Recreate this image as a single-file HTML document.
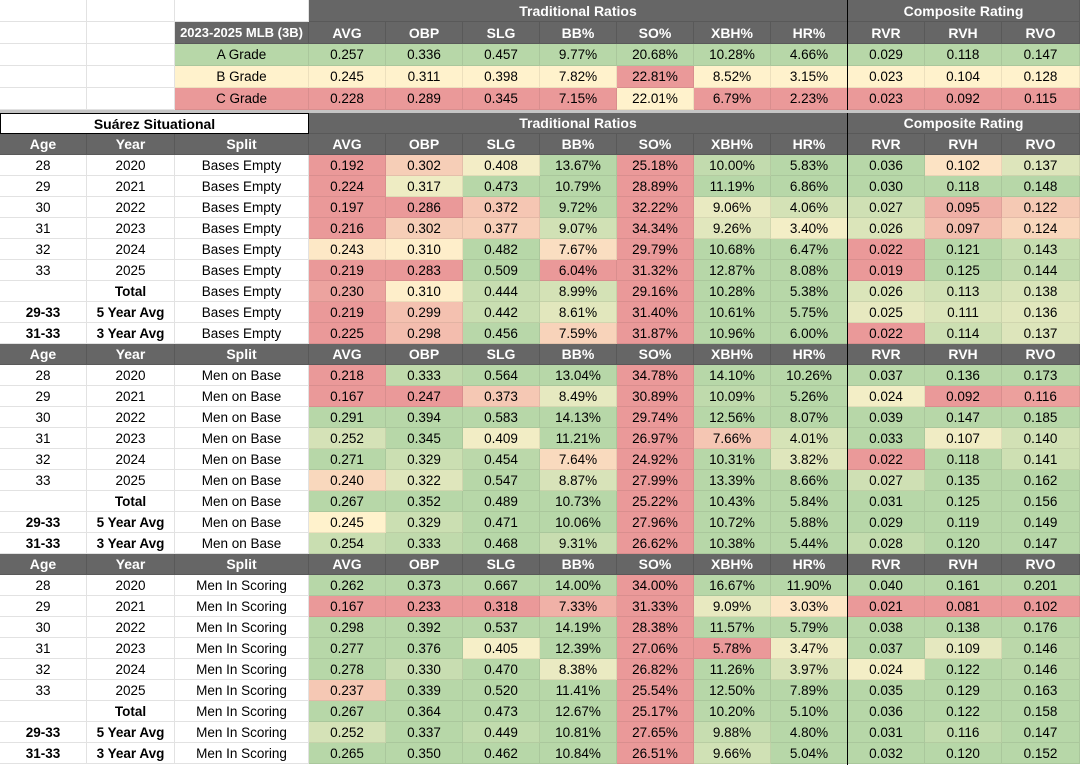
<!DOCTYPE html>
<html><head><meta charset="utf-8">
<style>
body{margin:0;width:1080px;height:765px;overflow:hidden;background:#fff;font-family:"Liberation Sans",Arial,sans-serif;position:relative}
.c{position:absolute;box-sizing:border-box;display:flex;align-items:center;justify-content:center;font-size:13.5px;color:#000;white-space:nowrap;border-right:1px solid rgba(0,0,0,0.07);border-bottom:1px solid rgba(0,0,0,0.07)}
.w{border-right:1px solid #e2e2e2;border-bottom:1px solid #e2e2e2}
.h{background:#666;color:#fff;font-weight:bold;font-size:14px;border-right:1px solid #595959;border-bottom:1px solid #595959}
.b{font-weight:bold}
</style></head><body>
<script>
const statCols=['AVG','OBP','SLG','BB%','SO%','XBH%','HR%','RVR','RVH','RVO'];
const gradeNames=['A Grade','B Grade','C Grade'];
const gradeA=['0.257','0.336','0.457','9.77%','20.68%','10.28%','4.66%','0.029','0.118','0.147'];
const gradeB=['0.245','0.311','0.398','7.82%','22.81%','8.52%','3.15%','0.023','0.104','0.128'];
const gradeC=['0.228','0.289','0.345','7.15%','22.01%','6.79%','2.23%','0.023','0.092','0.115'];
const ages=['28','29','30','31','32','33','','29-33','31-33'];
const years=['2020','2021','2022','2023','2024','2025','Total','5 Year Avg','3 Year Avg'];
const splits=['Bases Empty','Men on Base','Men In Scoring'];
const emptyVals=[
['0.192','0.302','0.408','13.67%','25.18%','10.00%','5.83%','0.036','0.102','0.137'],
['0.224','0.317','0.473','10.79%','28.89%','11.19%','6.86%','0.030','0.118','0.148'],
['0.197','0.286','0.372','9.72%','32.22%','9.06%','4.06%','0.027','0.095','0.122'],
['0.216','0.302','0.377','9.07%','34.34%','9.26%','3.40%','0.026','0.097','0.124'],
['0.243','0.310','0.482','7.67%','29.79%','10.68%','6.47%','0.022','0.121','0.143'],
['0.219','0.283','0.509','6.04%','31.32%','12.87%','8.08%','0.019','0.125','0.144'],
['0.230','0.310','0.444','8.99%','29.16%','10.28%','5.38%','0.026','0.113','0.138'],
['0.219','0.299','0.442','8.61%','31.40%','10.61%','5.75%','0.025','0.111','0.136'],
['0.225','0.298','0.456','7.59%','31.87%','10.96%','6.00%','0.022','0.114','0.137']];
const menOnVals=[
['0.218','0.333','0.564','13.04%','34.78%','14.10%','10.26%','0.037','0.136','0.173'],
['0.167','0.247','0.373','8.49%','30.89%','10.09%','5.26%','0.024','0.092','0.116'],
['0.291','0.394','0.583','14.13%','29.74%','12.56%','8.07%','0.039','0.147','0.185'],
['0.252','0.345','0.409','11.21%','26.97%','7.66%','4.01%','0.033','0.107','0.140'],
['0.271','0.329','0.454','7.64%','24.92%','10.31%','3.82%','0.022','0.118','0.141'],
['0.240','0.322','0.547','8.87%','27.99%','13.39%','8.66%','0.027','0.135','0.162'],
['0.267','0.352','0.489','10.73%','25.22%','10.43%','5.84%','0.031','0.125','0.156'],
['0.245','0.329','0.471','10.06%','27.96%','10.72%','5.88%','0.029','0.119','0.149'],
['0.254','0.333','0.468','9.31%','26.62%','10.38%','5.44%','0.028','0.120','0.147']];
const scoringVals=[
['0.262','0.373','0.667','14.00%','34.00%','16.67%','11.90%','0.040','0.161','0.201'],
['0.167','0.233','0.318','7.33%','31.33%','9.09%','3.03%','0.021','0.081','0.102'],
['0.298','0.392','0.537','14.19%','28.38%','11.57%','5.79%','0.038','0.138','0.176'],
['0.277','0.376','0.405','12.39%','27.06%','5.78%','3.47%','0.037','0.109','0.146'],
['0.278','0.330','0.470','8.38%','26.82%','11.26%','3.97%','0.024','0.122','0.146'],
['0.237','0.339','0.520','11.41%','25.54%','12.50%','7.89%','0.035','0.129','0.163'],
['0.267','0.364','0.473','12.67%','25.17%','10.20%','5.10%','0.036','0.122','0.158'],
['0.252','0.337','0.449','10.81%','27.65%','9.88%','4.80%','0.031','0.116','0.147'],
['0.265','0.350','0.462','10.84%','26.51%','9.66%','5.04%','0.032','0.120','0.152']];
const sectionVals=[emptyVals,menOnVals,scoringVals];

const X=[0,87,175,309,386,463,540,617,694,771,848,925,1002,1080];
const GREEN=[183,215,168],YELLOW=[255,242,204],RED=[234,153,153];
function num(s){return parseFloat(s);}
function mix(a,b,t){return 'rgb('+a.map((v,i)=>Math.round(v+(b[i]-v)*t)).join(',')+')';}
function colorFor(v,j){
  const A=num(gradeA[j]),B=num(gradeB[j]),C=num(gradeC[j]);
  const dir=A>=C?1:-1;
  const g=(v-C)*dir,gB=(B-C)*dir,gA=(A-C)*dir;
  if(g<=0)return mix(RED,RED,0);
  if(gB>0&&g<gB)return mix(RED,YELLOW,g/gB);
  if(gB<=0&&g<gA)return mix(YELLOW,GREEN,g/gA);
  if(g<gA)return mix(YELLOW,GREEN,(g-gB)/(gA-gB));
  return mix(GREEN,GREEN,0);
}
function cell(x1,x2,y,h,txt,cls,bg,name,bold){
  const d=document.createElement('div');
  d.className='c '+cls+(bold?' b':'');
  d.style.left=X[x1]+'px';d.style.width=(X[x2]-X[x1])+'px';
  d.style.top=y+'px';d.style.height=h+'px';
  if(bg)d.style.background=bg;
  d.textContent=txt;
  
  
  document.body.appendChild(d);
  return d;
}
const TY=[0,22,44,66,88,110];
for(let r=0;r<5;r++){cell(0,1,TY[r],22,'','w',null,'blank-cell');cell(1,2,TY[r],22,'','w',null,'blank-cell');}
cell(2,3,0,22,'','w',null,'blank-cell');
cell(3,10,0,22,'Traditional Ratios','h',null,'traditional-ratios-header');
cell(10,13,0,22,'Composite Rating','h',null,'composite-rating-header');
const tt=cell(2,3,22,22,'2023-2025 MLB (3B)','h',null,'grade-table-title');
tt.style.fontSize='13px';
statCols.forEach((c,j)=>cell(3+j,4+j,22,22,c,'h',null,'col-header-'+c.toLowerCase().replace('%','-pct')));
const gradeRows=[gradeA,gradeB,gradeC];
const gradeBg=[GREEN,YELLOW,RED];
gradeRows.forEach((row,r)=>{
  const y=TY[r+2];
  cell(2,3,y,22,gradeNames[r],'',mix(gradeBg[r],gradeBg[r],0),'grade-label');
  row.forEach((v,j)=>{
    let bg=gradeBg[r];
    if(j===4){bg=r===1?RED:(r===2?YELLOW:GREEN);}
    cell(3+j,4+j,y,22,v,'',mix(bg,bg,0),'grade-value');
  });
});
const gap=document.createElement('div');
gap.style.cssText='position:absolute;left:0;top:110px;width:1080px;height:3px;background:#c4c4c4';


document.body.appendChild(gap);
let y=113;const RH=21;
const t=cell(0,3,y,RH,'Suárez Situational','',null,'situational-title',true);
t.style.border='1.5px solid #000';t.style.fontSize='14px';
cell(3,10,y,RH,'Traditional Ratios','h',null,'traditional-ratios-header');
cell(10,13,y,RH,'Composite Rating','h',null,'composite-rating-header');
y+=RH;
sectionVals.forEach((vals,s)=>{
  cell(0,1,y,RH,'Age','h',null,'age-header');
  cell(1,2,y,RH,'Year','h',null,'year-header');
  cell(2,3,y,RH,'Split','h',null,'split-header');
  statCols.forEach((c,j)=>cell(3+j,4+j,y,RH,c,'h',null,'col-header-'+c.toLowerCase().replace('%','-pct')));
  y+=RH;
  vals.forEach((row,r)=>{
    cell(0,1,y,RH,ages[r],'w',null,'age-cell',r>=7);
    cell(1,2,y,RH,years[r],'w',null,'year-cell',r>=6);
    cell(2,3,y,RH,splits[s],'w',null,'split-cell');
    row.forEach((v,j)=>cell(3+j,4+j,y,RH,v,'',colorFor(num(v),j),'stat-value'));
    y+=RH;
  });
});
const vl=document.createElement('div');
vl.style.cssText='position:absolute;left:847px;top:0;width:1px;height:110px;background:#000';


document.body.appendChild(vl);
const vl2=document.createElement('div');
vl2.style.cssText='position:absolute;left:847px;top:113px;width:1px;height:652px;background:#000';


document.body.appendChild(vl2);
</script>
</body></html>
